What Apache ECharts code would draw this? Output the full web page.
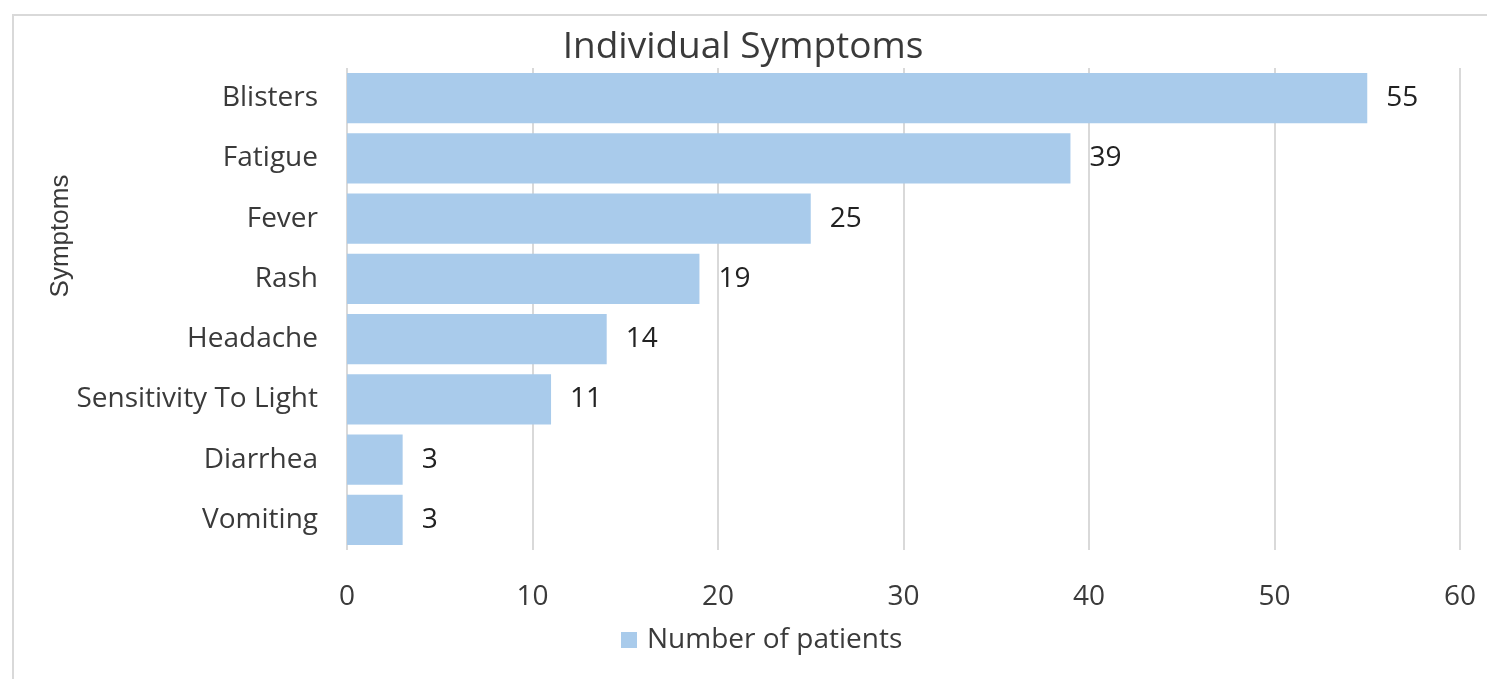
<!DOCTYPE html>
<html>
<head>
<meta charset="utf-8">
<script src="https://cdn.jsdelivr.net/npm/echarts@6/dist/echarts.min.js"></script>
<style>
html,body{margin:0;padding:0;background:#fff;}
#chart{width:1487px;height:679px;}
</style>
</head>
<body>
<div id="chart"></div>
<script>
// 数据
var symptoms = ['Blisters', 'Fatigue', 'Fever', 'Rash', 'Headache', 'Sensitivity To Light', 'Diarrhea', 'Vomiting'];
var patients = [55, 39, 25, 19, 14, 11, 3, 3];
var xTicks = [0, 10, 20, 30, 40, 50, 60];

var font = 'Open Sans';
var textColor = '#3a3a3a';

var myChart = echarts.init(document.getElementById('chart'));
var option = {
    backgroundColor: '#fff',
    animation: false,
    title: {
        text: 'Individual Symptoms',
        left: 738,
        top: 24,
        textAlign: 'center',
        textStyle: {
            fontFamily: font,
            fontSize: 37,
            fontWeight: 'normal',
            color: textColor
        }
    },
    legend: {
        left: 616,
        top: 621,
        icon: 'rect',
        itemWidth: 16,
        itemHeight: 16,
        itemGap: 10,
        textStyle: {
            fontFamily: font,
            fontSize: 28,
            color: textColor,
            padding: [0, 0, 0, 5]
        },
        data: ['Number of patients']
    },
    graphic: [
        {
            type: 'rect',
            shape: {x: 13, y: 15, width: 1490, height: 700},
            style: {fill: 'none', stroke: '#d9d9d9', lineWidth: 2},
            silent: true
        },
        {
            type: 'text',
            x: 61,
            y: 236,
            rotation: Math.PI / 2,
            style: {
                text: 'Symptoms',
                fontFamily: 'Liberation Sans',
                fontSize: 26,
                fill: textColor,
                align: 'center',
                verticalAlign: 'middle'
            }
        }
    ],
    grid: {
        left: 347,
        right: 27,
        top: 68,
        bottom: 129
    },
    xAxis: {
        type: 'value',
        min: 0,
        max: 60,
        interval: 10,
        axisLine: {show: false},
        axisTick: {show: false},
        axisLabel: {
            margin: 33,
            fontFamily: font,
            fontSize: 28,
            color: textColor,
            formatter: function (v) { return xTicks.indexOf(v) >= 0 ? String(v) : ''; }
        },
        splitLine: {
            lineStyle: {color: '#d9d9d9', width: 2}
        }
    },
    yAxis: {
        type: 'category',
        inverse: true,
        data: symptoms,
        axisLine: {show: false},
        axisTick: {show: false},
        axisLabel: {
            margin: 29,
            fontFamily: font,
            fontSize: 28,
            color: textColor
        }
    },
    series: [
        {
            name: 'Number of patients',
            type: 'bar',
            data: patients,
            barCategoryGap: '17%',
            itemStyle: {color: '#a9cbeb'},
            label: {
                show: true,
                position: 'right',
                distance: 19,
                fontFamily: font,
                fontSize: 28,
                color: '#222'
            }
        }
    ]
};
myChart.setOption(option);
</script>
</body>
</html>
